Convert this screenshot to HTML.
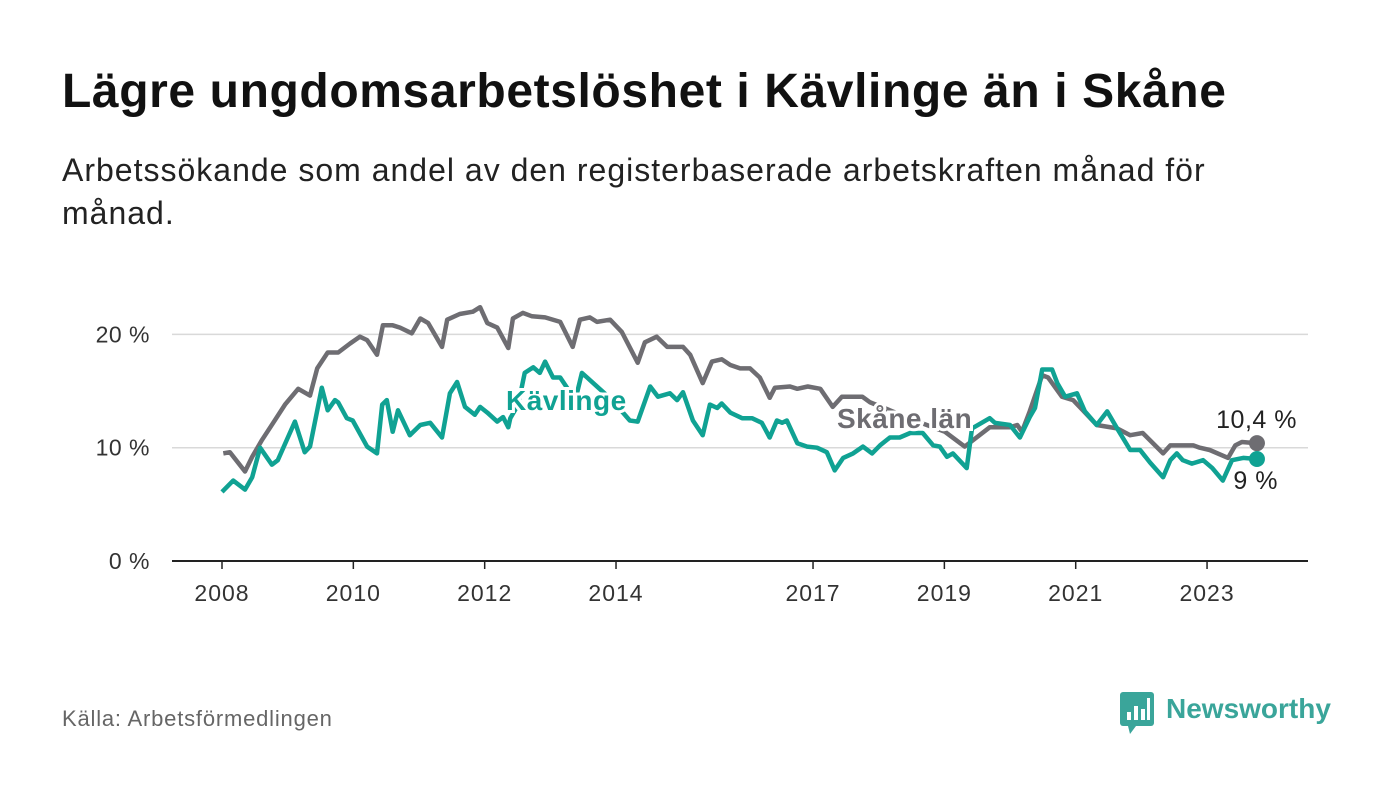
<!DOCTYPE html>
<html><head><meta charset="utf-8"><style>
body{margin:0;background:#fff;width:1400px;height:794px;overflow:hidden;font-family:"Liberation Sans",sans-serif;}
#title{position:absolute;left:62px;top:64px;font-size:48px;letter-spacing:0.6px;font-weight:bold;color:#111;margin:0;}
#sub{position:absolute;left:62px;top:149px;font-size:32px;letter-spacing:1px;line-height:43px;color:#222;width:1320px;}
#src{position:absolute;left:62px;top:706px;font-size:22px;letter-spacing:0.8px;color:#666;}
#logo{position:absolute;left:1120px;top:690px;}
svg text{font-family:"Liberation Sans",sans-serif;}
</style></head><body>
<h1 id="title">Lägre ungdomsarbetslöshet i Kävlinge än i Skåne</h1>
<div id="sub">Arbetssökande som andel av den registerbaserade arbetskraften månad för<br>månad.</div>
<svg id="chart" width="1400" height="794" style="position:absolute;left:0;top:0"></svg>
<div id="src">Källa: Arbetsförmedlingen</div>
<svg id="logo" width="230" height="50">
<rect x="0" y="2" width="34" height="34" rx="3" fill="#3aa59a"/>
<polygon points="8,36 16,36 10,44" fill="#3aa59a"/>
<rect x="7" y="22" width="4" height="8" fill="#fff"/><rect x="14" y="16" width="4" height="14" fill="#fff"/><rect x="21" y="19" width="4" height="11" fill="#fff"/><rect x="27" y="8" width="3" height="22" fill="#fff"/>
<text x="46" y="28" font-size="28" font-weight="bold" fill="#3aa59a" style="font-family:'Liberation Sans',sans-serif">Newsworthy</text>
</svg>
<script>
const yTicks=[0,10,20];
const xTickYears=[2008,2010,2012,2014,2017,2019,2021,2023];
const skaneYears=[2008.02,2008.12,2008.35,2008.46,2008.61,2008.78,2008.96,2009.16,2009.34,2009.45,2009.61,2009.77,2009.95,2010.10,2010.21,2010.36,2010.45,2010.60,2010.71,2010.89,2011.02,2011.14,2011.35,2011.43,2011.62,2011.82,2011.93,2012.04,2012.19,2012.36,2012.43,2012.58,2012.72,2012.92,2013.15,2013.34,2013.45,2013.60,2013.71,2013.91,2014.09,2014.33,2014.44,2014.62,2014.78,2015.02,2015.13,2015.32,2015.46,2015.61,2015.74,2015.89,2016.04,2016.19,2016.34,2016.42,2016.65,2016.76,2016.92,2017.11,2017.30,2017.44,2017.75,2017.87,2018.17,2018.55,2019.01,2019.31,2019.69,2020.00,2020.11,2020.18,2020.30,2020.49,2020.58,2020.79,2020.96,2021.11,2021.32,2021.63,2021.83,2022.02,2022.33,2022.44,2022.79,2022.89,2023.04,2023.32,2023.43,2023.53,2023.76];
const skaneValues=[9.5,9.6,7.9,9.2,10.7,12.2,13.8,15.2,14.6,17.0,18.4,18.4,19.2,19.8,19.5,18.2,20.8,20.8,20.6,20.1,21.4,21.0,18.9,21.3,21.8,22.0,22.4,21.0,20.6,18.8,21.4,21.9,21.6,21.5,21.1,18.9,21.3,21.5,21.1,21.3,20.2,17.5,19.3,19.8,18.9,18.9,18.2,15.7,17.6,17.8,17.3,17.0,17.0,16.2,14.4,15.3,15.4,15.2,15.4,15.2,13.6,14.5,14.5,14.0,13.3,12.4,11.4,10.1,11.8,11.8,12.0,11.4,13.2,16.4,16.2,14.5,14.2,13.3,12.0,11.7,11.1,11.3,9.5,10.2,10.2,10.0,9.8,9.1,10.2,10.5,10.4];
const kavYears=[2008.00,2008.17,2008.35,2008.46,2008.58,2008.76,2008.85,2009.11,2009.26,2009.34,2009.52,2009.61,2009.72,2009.77,2009.90,2009.99,2010.21,2010.36,2010.44,2010.51,2010.60,2010.68,2010.86,2011.02,2011.17,2011.35,2011.47,2011.58,2011.70,2011.85,2011.93,2012.04,2012.19,2012.28,2012.36,2012.39,2012.51,2012.61,2012.74,2012.84,2012.92,2013.04,2013.15,2013.38,2013.48,2013.56,2013.73,2013.94,2014.21,2014.33,2014.52,2014.64,2014.82,2014.93,2015.02,2015.17,2015.32,2015.43,2015.54,2015.61,2015.74,2015.92,2016.07,2016.22,2016.34,2016.45,2016.53,2016.60,2016.76,2016.91,2017.06,2017.21,2017.33,2017.46,2017.61,2017.76,2017.90,2018.02,2018.17,2018.32,2018.48,2018.67,2018.83,2018.93,2019.04,2019.13,2019.34,2019.42,2019.69,2019.77,2020.00,2020.15,2020.30,2020.38,2020.49,2020.64,2020.72,2020.84,2021.02,2021.14,2021.32,2021.48,2021.63,2021.83,2021.98,2022.13,2022.33,2022.44,2022.54,2022.63,2022.77,2022.94,2023.08,2023.24,2023.38,2023.55,2023.76];
const kavValues=[6.1,7.1,6.3,7.4,10.0,8.5,8.9,12.3,9.6,10.1,15.3,13.3,14.2,14.0,12.6,12.4,10.1,9.5,13.8,14.2,11.4,13.3,11.1,12.0,12.2,10.9,14.8,15.8,13.6,12.9,13.6,13.1,12.3,12.7,11.8,12.6,13.8,16.6,17.1,16.6,17.6,16.2,16.2,14.2,16.6,16.2,15.3,14.2,12.4,12.3,15.4,14.5,14.8,14.2,14.9,12.4,11.1,13.8,13.5,13.9,13.1,12.6,12.6,12.2,10.9,12.4,12.2,12.4,10.4,10.1,10.0,9.6,8.0,9.1,9.5,10.1,9.5,10.2,10.9,10.9,11.3,11.3,10.2,10.1,9.2,9.5,8.2,11.7,12.6,12.2,12.0,10.9,12.7,13.5,16.9,16.9,15.7,14.5,14.8,13.2,12.0,13.2,11.7,9.8,9.8,8.7,7.4,8.9,9.5,8.9,8.6,8.9,8.2,7.1,8.9,9.1,9.0];
const endLabels=["10,4 %","9 %"];

const svg=document.getElementById('chart');
const NS='http://www.w3.org/2000/svg';
const X=y=>222+(y-2008)*65.67;
const Y=v=>561-v*11.33;
function mk(t,a,p){const e=document.createElementNS(NS,t);for(const k in a)e.setAttribute(k,a[k]);(p||svg).appendChild(e);return e;}
yTicks.forEach(t=>{
  const g=mk('line',{x1:172,x2:1308,y1:Y(t),y2:Y(t),stroke:t===0?'#222':'#d9d9d9','stroke-width':t===0?2:1.5});
  
  
  const l=mk('text',{x:150,y:Y(t)+8,'text-anchor':'end','font-size':23,'letter-spacing':0.5,fill:'#333'});
  l.textContent=t+' %';
  
  
});
xTickYears.forEach(yr=>{
  const tk=mk('line',{x1:X(yr),x2:X(yr),y1:561,y2:569,stroke:'#222','stroke-width':1.5});
  
  
  const l=mk('text',{x:X(yr),y:601,'text-anchor':'middle','font-size':23,'letter-spacing':1,fill:'#333'});
  l.textContent=yr;
  
  
});
function line(xs,vs,c,name){
  const d=xs.map((x,i)=>(i?'L':'M')+X(x).toFixed(1)+','+Y(vs[i]).toFixed(1)).join('');
  const p=mk('path',{d:d,fill:'none',stroke:c,'stroke-width':4.5,'stroke-linejoin':'round'});
  
  
}
line(skaneYears,skaneValues,'#6e6d72','skane-line');
line(kavYears,kavValues,'#10a293','kavlinge-line');
function lbl(x,y,t,c,name){
  const e=mk('text',{x:x,y:y,'font-size':28,'letter-spacing':0.5,'font-weight':'bold',fill:c,stroke:'#fff','stroke-width':6,'paint-order':'stroke'});
  e.textContent=t;
  
  
}
lbl(506,410,'Kävlinge','#10a293','kavlinge-label');
lbl(837,428,'Skåne län','#6e6d72','skane-label');
const ls=skaneYears.length-1,lk=kavYears.length-1;
const d1=mk('circle',{cx:X(skaneYears[ls]),cy:Y(skaneValues[ls]),r:8,fill:'#6e6d72'});


const d2=mk('circle',{cx:X(kavYears[lk]),cy:Y(kavValues[lk]),r:8,fill:'#10a293'});


const e1=mk('text',{x:1297,y:428,'text-anchor':'end','font-size':25,'letter-spacing':0.5,fill:'#222',stroke:'#fff','stroke-width':5,'paint-order':'stroke'});
e1.textContent=endLabels[0];


const e2=mk('text',{x:1278,y:489,'text-anchor':'end','font-size':25,'letter-spacing':0.5,fill:'#222',stroke:'#fff','stroke-width':5,'paint-order':'stroke'});
e2.textContent=endLabels[1];


</script>
</body></html>
